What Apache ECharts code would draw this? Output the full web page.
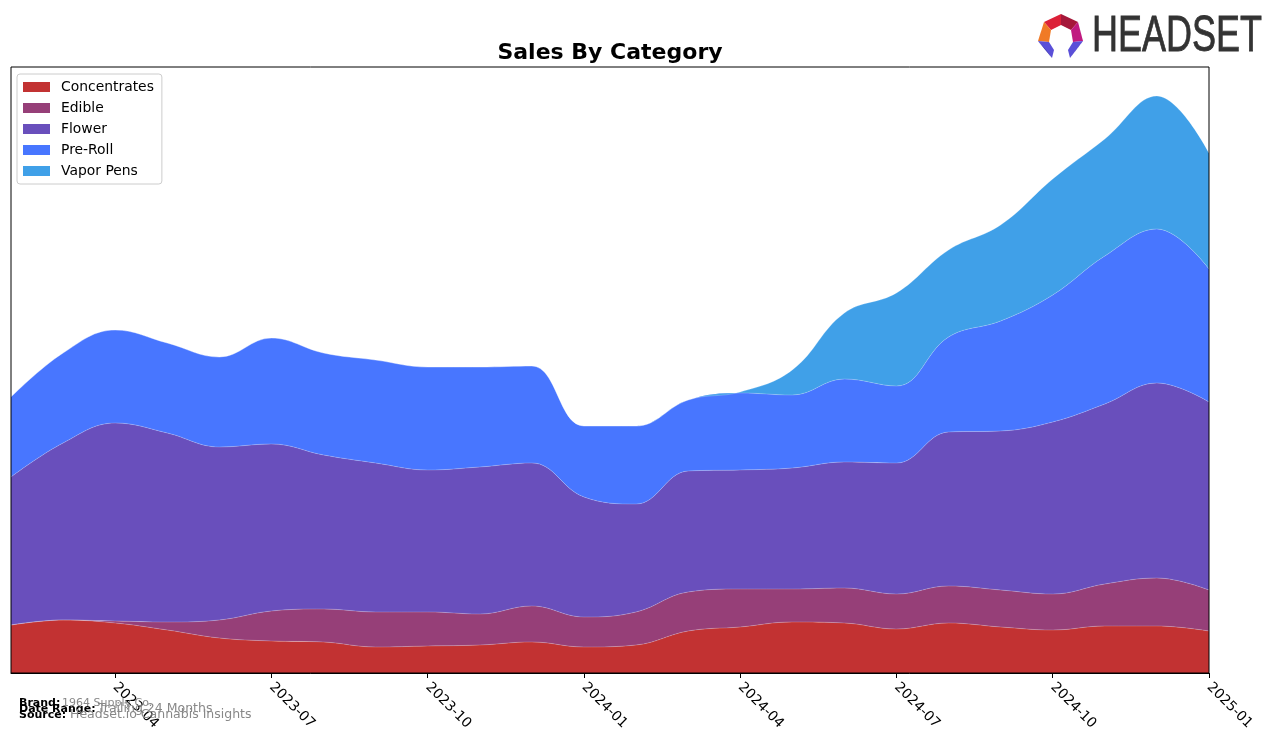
<!DOCTYPE html>
<html>
<head>
<meta charset="utf-8">
<script src="https://cdn.jsdelivr.net/npm/echarts@6/dist/echarts.min.js"></script>
<style>
  html, body { margin: 0; padding: 0; background: #fff; }
  #chart { width: 1276px; height: 743px; }
</style>
</head>
<body>
<div id="chart"></div>
<script>
// ---- data ----
const months = ['2023-02','2023-03','2023-04','2023-05','2023-06','2023-07','2023-08','2023-09','2023-10','2023-11','2023-12','2024-01','2024-02','2024-03','2024-04','2024-05','2024-06','2024-07','2024-08','2024-09','2024-10','2024-11','2024-12','2025-01'];
const concentrates = [48,53,50,43,35,32,31,26,27,28,31,26,28,42,46,51,50,44,50,46,43,47,47,42];
const edible       = [0,0,2,8,18,30,33,35,34,31,36,30,33,39,38,33,35,35,37,37,36,42,48,41];
const flower       = [148,177,198,189,173,167,154,149,142,147,143,120,108,121,119,121,126,131,154,159,172,180,195,188];
const preRoll      = [80,90,93,90,90,106,102,103,103,100,97,71,78,71,77,73,83,77,95,110,127,148,154,133];
const vaporPens    = [0,0,0,0,0,0,0,0,0,0,0,0,0,0,1,25,66,93,87,96,116,117,133,116];
const tickLabels   = ['2023-04','2023-07','2023-10','2024-01','2024-04','2024-07','2024-10','2025-01'];
const seriesNames  = ['Concentrates','Edible','Flower','Pre-Roll','Vapor Pens'];
const seriesData   = [concentrates, edible, flower, preRoll, vaporPens];
const seriesColors = ['#c23232','#963f78','#694fbc','#4876ff','#40a0e8'];

const chart = echarts.init(document.getElementById('chart'), null, { renderer: 'canvas' });
const FONT = 'DejaVu Sans';
const showTick = function (index, value) { return tickLabels.indexOf(months[index]) >= 0; };

const series = seriesNames.map((name, i) => ({
  name,
  type: 'line',
  stack: 'total',
  smooth: 0.4,
  showSymbol: false,
  symbol: 'none',
  lineStyle: { width: 0.6, color: 'rgba(255,255,255,0.35)' },
  itemStyle: { color: seriesColors[i] },
  areaStyle: { color: seriesColors[i], opacity: 1 },
  emphasis: { disabled: true },
  data: seriesData[i]
}));

const option = {
  animation: false,
  grid: { left: 11, right: 67, top: 67, bottom: 70, containLabel: false },
  xAxis: {
    type: 'category',
    boundaryGap: false,
    data: months,
    axisLine: { show: true, lineStyle: { color: '#000', width: 1 } },
    axisTick: { show: true, inside: false, length: 5, lineStyle: { color: '#000' }, interval: showTick },
    axisLabel: {
      interval: showTick,
      rotate: -45,
      margin: 12,
      color: '#000',
      fontFamily: FONT,
      fontSize: 13.9
    },
    splitLine: { show: false }
  },
  yAxis: {
    type: 'value',
    min: 0,
    max: 606,
    show: false
  },
  legend: {
    orient: 'vertical',
    left: 17,
    top: 74,
    padding: [6, 8, 6, 6],
    borderColor: '#cccccc',
    borderWidth: 1,
    borderRadius: 3,
    backgroundColor: '#fff',
    itemWidth: 27,
    itemHeight: 10,
    itemGap: 7,
    icon: 'rect',
    selectedMode: false,
    textStyle: { fontFamily: FONT, fontSize: 13.9, color: '#000', padding: [0, 0, 0, 6] },
    data: seriesNames
  },
  graphic: [
    { type: 'rect', z: 100, silent: true, shape: { x: 11, y: 67, width: 1198, height: 606 }, style: { fill: 'none', stroke: '#000', lineWidth: 1 } },
    { type: 'text', z: 100, style: { text: 'Sales By Category', x: 610, y: 53, textAlign: 'center', textVerticalAlign: 'middle', font: 'bold 22px "DejaVu Sans"', fill: '#000' } },
    // logo icon
    { type: 'polygon', z: 100, shape: { points: [[1044,22],[1061,14],[1061,25],[1051,30]] }, style: { fill: '#dc2038' } },
    { type: 'polygon', z: 100, shape: { points: [[1061,14],[1078,22],[1071,30],[1061,25]] }, style: { fill: '#a5183a' } },
    { type: 'polygon', z: 100, shape: { points: [[1044,22],[1051,30],[1049,42],[1038,41]] }, style: { fill: '#f07a26' } },
    { type: 'polygon', z: 100, shape: { points: [[1078,22],[1083,41],[1073,42],[1071,30]] }, style: { fill: '#c01a80' } },
    { type: 'polygon', z: 100, shape: { points: [[1038,41],[1049,42],[1054,50],[1052,58]] }, style: { fill: '#5a4fd8' } },
    { type: 'polygon', z: 100, shape: { points: [[1038,41],[1052,58],[1046,50]] }, style: { fill: '#2f2a96' } },
    { type: 'polygon', z: 100, shape: { points: [[1083,41],[1073,42],[1068,50],[1070,58]] }, style: { fill: '#5a4fd8' } },
    { type: 'polygon', z: 100, shape: { points: [[1083,41],[1070,58],[1076,50]] }, style: { fill: '#2f2a96' } },
    { type: 'text', z: 100, x: 1092, y: 37, scaleX: 0.72, style: { text: 'HEADSET', x: 0, y: 0, textVerticalAlign: 'middle', font: '50px "Liberation Sans"', fill: '#333333', stroke: '#333333', lineWidth: 0.8 } },
    // footer
    { type: 'text', z: 100, style: { text: 'Brand:', x: 19, y: 703, textVerticalAlign: 'middle', font: 'bold 11px "DejaVu Sans"', fill: '#000' } },
    { type: 'text', z: 100, style: { text: '1964 Supply Co.', x: 62, y: 703, textVerticalAlign: 'middle', font: '11px "DejaVu Sans"', fill: '#888' } },
    { type: 'text', z: 100, style: { text: 'Date Range:', x: 19, y: 709, textVerticalAlign: 'middle', font: 'bold 11px "DejaVu Sans"', fill: '#000' } },
    { type: 'text', z: 100, style: { text: 'Trailing 24 Months', x: 98, y: 709, textVerticalAlign: 'middle', font: '12.5px "DejaVu Sans"', fill: '#888' } },
    { type: 'text', z: 100, style: { text: 'Source:', x: 19, y: 715, textVerticalAlign: 'middle', font: 'bold 11px "DejaVu Sans"', fill: '#000' } },
    { type: 'text', z: 100, style: { text: 'Headset.io Cannabis Insights', x: 70, y: 715, textVerticalAlign: 'middle', font: '12.5px "DejaVu Sans"', fill: '#888' } }
  ],
  series
};
chart.setOption(option);
</script>
</body>
</html>
